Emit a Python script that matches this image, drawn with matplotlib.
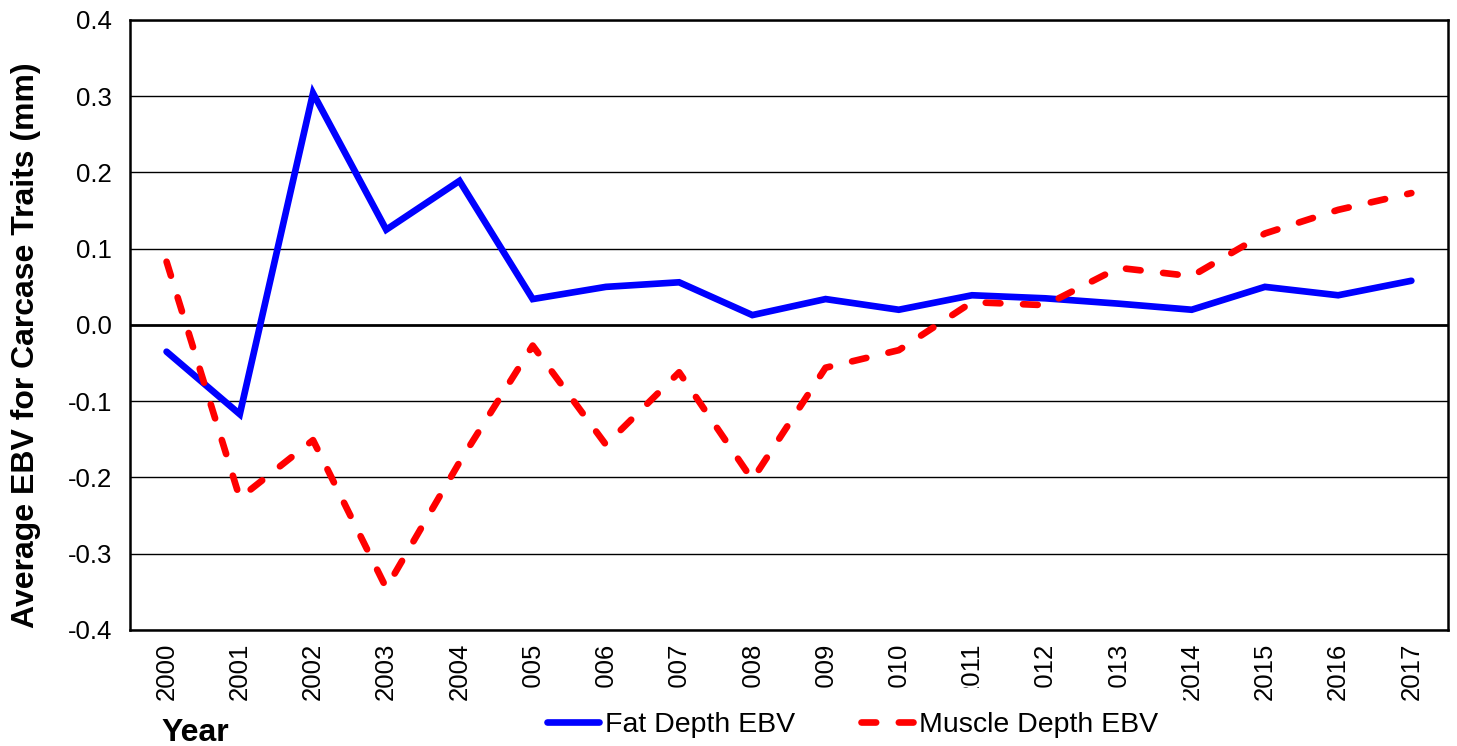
"""Average carcase trait EBVs by year."""

import matplotlib
matplotlib.use("Agg")
import matplotlib.pyplot as plt

plt.rcParams["font.family"] = ["Liberation Sans", "DejaVu Sans"]

years = [str(y) for y in range(2000, 2018)]
fat_depth = [-0.035, -0.117, 0.304, 0.125, 0.189, 0.034, 0.050, 0.056, 0.013,
             0.034, 0.020, 0.039, 0.035, 0.028, 0.020, 0.050, 0.039, 0.058]
muscle_depth = [0.083, -0.227, -0.151, -0.345, -0.180, -0.027, -0.157, -0.062, -0.203,
                -0.056, -0.033, 0.030, 0.026, 0.075, 0.064, 0.120, 0.151, 0.173]
y_ticks = [-0.4, -0.3, -0.2, -0.1, 0.0, 0.1, 0.2, 0.3, 0.4]

fig = plt.figure(figsize=(14.57, 7.46), dpi=100, facecolor="white")
ax = fig.add_axes([0.0892, 0.1555, 0.9046, 0.8177])

x = [i + 0.5 for i in range(len(years))]
for value in y_ticks:
    ax.axhline(value, color="black", linewidth=2.0 if value == 0 else 1.0, zorder=1)

ax.plot(x, fat_depth, color="#0000ff", linewidth=4.8, solid_capstyle="round",
        solid_joinstyle="miter", label="Fat Depth EBV", zorder=3)
ax.plot(x, muscle_depth, color="#ff0000", linewidth=4.8, dashes=(2.2, 3.4),
        dash_capstyle="round", label="Muscle Depth EBV", zorder=3)

ax.set_xlim(0, len(years))
ax.set_ylim(-0.4, 0.4)
ax.set_xticks(x)
ax.set_xticklabels(years, rotation=90, fontsize=18.5)
ax.set_yticks(y_ticks)
ax.set_yticklabels([f"{v:.1f}" for v in y_ticks], fontsize=18.5)
ax.tick_params(axis="both", length=0)
ax.tick_params(axis="x", pad=9)
ax.tick_params(axis="y", pad=13)

for spine in ax.spines.values():
    spine.set_color("black")
    spine.set_linewidth(1.8)

ax.set_ylabel("Average EBV for Carcase Traits (mm)", fontsize=23, fontweight="bold")
ax.yaxis.set_label_coords(-0.0675, 0.467)
fig.text(0.111, 0.017, "Year", fontsize=23, fontweight="bold", ha="left", va="center")

legend = fig.legend(loc="center", bbox_to_anchor=(0.585, 0.028), ncol=2, fontsize=20.5,
                    frameon=True, handlelength=1.85, columnspacing=2.3,
                    handletextpad=0.2, borderpad=0.55, borderaxespad=0)
legend.get_frame().set_facecolor("white")
legend.get_frame().set_edgecolor("white")
legend.get_frame().set_alpha(1.0)
legend.get_frame().set_boxstyle("square", pad=0.3)

fig.savefig("out.png", dpi=100, facecolor="white")
plt.close(fig)
